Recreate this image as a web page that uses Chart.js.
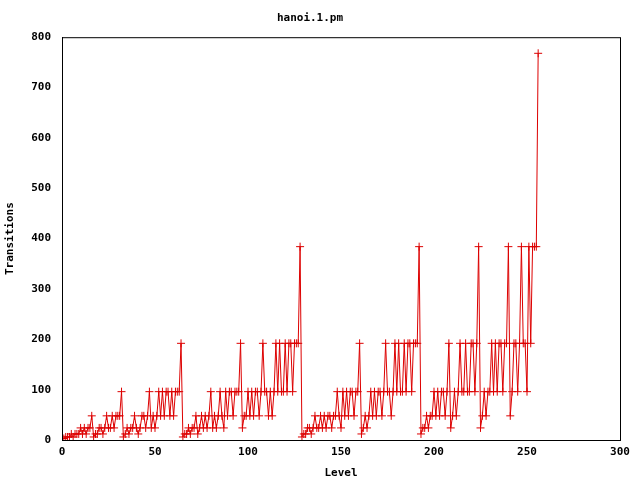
<!DOCTYPE html>
<html>
<head>
<meta charset="utf-8">
<script src="https://cdn.jsdelivr.net/npm/chart.js@4"></script>
<style>
  html, body { margin: 0; padding: 0; background: #fff; }
  #wrap { width: 640px; height: 480px; }
</style>
</head>
<body>
<div id="wrap"><canvas id="c" width="640" height="480"></canvas></div>
<script>
// === Data (levels 0..256) ===
const seg0 = [3,3,6,6,6,12,6,12,12,12,24,12,24,12,24,24,48];
const seg1 = [6,12,12,24,24,12,24,48,24,24,48,24,48,48,48,96];
const seg2 = [6,12,24,12,24,24,48,24,12,24,48,48,24,48,96,24,
              48,24,48,96,48,96,48,96,96,48,96,48,96,96,96,192];
const seg3 = [6,12,12,24,12,24,24,48,12,24,48,24,48,24,48,96,
              24,48,24,48,96,48,24,96,48,96,96,48,96,96,96,192,
              24,48,48,96,48,96,48,96,96,48,96,192,96,96,48,96,
              48,96,192,96,192,96,96,192,96,192,192,96,192,192,192,384];
const seg4 = [6,12,12,24,24,12,24,48,24,24,48,24,48,24,48,48,
              24,48,48,96,48,24,96,48,96,48,96,96,48,96,96,192,
              12,24,48,24,48,96,48,96,48,96,96,48,96,192,96,96,
              48,96,192,96,192,96,96,192,96,192,192,96,192,192,192,384];
const seg5 = [12,24,24,48,24,48,48,96,48,96,48,96,96,48,96,192,
              24,48,96,48,96,192,96,96,192,96,96,192,192,96,192,384,
              24,48,96,48,96,96,192,96,192,96,192,192,96,192,192,384,
              48,96,192,192,96,192,384,192,192,96,384,192,384,384,384,768];
const transitions = [].concat(seg0, seg1, seg2, seg3, seg4, seg5);
const levels = transitions.map((_, i) => i);

const xTicks = [0, 50, 100, 150, 200, 250, 300];
const yTicks = [0, 100, 200, 300, 400, 500, 600, 700, 800];

const font = { family: "'DejaVu Sans Mono', monospace", size: 11, weight: 'bold' };

new Chart(document.getElementById('c'), {
  type: 'line',
  data: {
    datasets: [{
      label: 'hanoi.1.pm',
      data: levels.map((l, i) => ({ x: l, y: transitions[i] })),
      borderColor: '#dd0000',
      borderWidth: 1,
      pointStyle: 'cross',
      pointRadius: 4,
      pointBorderColor: '#dd0000',
      pointBorderWidth: 1,
      fill: false,
      tension: 0
    }]
  },
  options: {
    responsive: false,
    animation: false,
    layout: { padding: { left: 0, right: 20, top: 0, bottom: 0 } },
    plugins: {
      legend: { display: false },
      tooltip: { enabled: false },
      title: {
        display: true, text: 'hanoi.1.pm', color: '#000', font: font,
        padding: { top: 12, bottom: 12 }
      }
    },
    scales: {
      x: {
        type: 'linear', min: 0, max: 300,
        afterBuildTicks: s => { s.ticks = xTicks.map(v => ({ value: v })); },
        afterFit: s => { s.height = 40; },
        grid: { display: false, tickLength: 6 },
        border: { color: '#000', width: 1 },
        ticks: { color: '#000', font: font, maxRotation: 0, padding: 0 },
        title: { display: true, text: 'Level', color: '#000', font: font, padding: { top: 4, bottom: 0 } }
      },
      y: {
        min: 0, max: 800,
        afterBuildTicks: s => { s.ticks = yTicks.map(v => ({ value: v })); },
        afterFit: s => { s.width = 62; },
        grid: { display: false },
        border: { color: '#000', width: 1 },
        ticks: { color: '#000', font: font },
        title: { display: true, text: 'Transitions', color: '#000', font: font }
      }
    }
  },
  plugins: [{
    id: 'frame',
    afterDraw(chart) {
      const { ctx, chartArea: a } = chart;
      ctx.save();
      ctx.strokeStyle = '#000';
      ctx.lineWidth = 1;
      ctx.strokeRect(a.left + 0.5, a.top + 0.5, a.right - a.left, a.bottom - a.top);
      ctx.restore();
    }
  }]
});
</script>
</body>
</html>
